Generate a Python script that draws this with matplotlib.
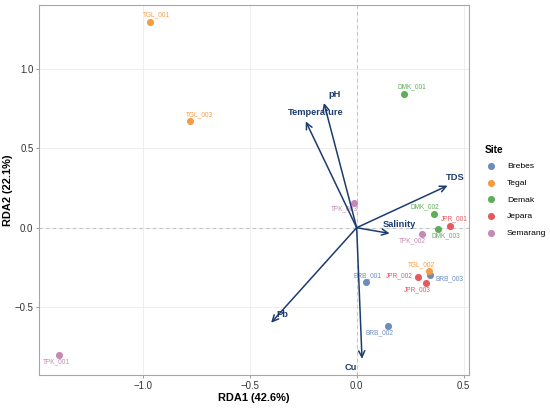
import numpy as np
import matplotlib.pyplot as plt

plt.rcParams['font.family'] = ['Liberation Sans', 'DejaVu Sans']
plt.rcParams['axes.unicode_minus'] = True

# site scores
samples = ['TGL_001', 'TGL_003', 'DMK_001', 'TPK_003', 'DMK_002', 'JPR_001', 'DMK_003',
           'TPK_002', 'TGL_002', 'BRB_003', 'JPR_002', 'JPR_003', 'BRB_001', 'BRB_002', 'TPK_001']
site = ['Tegal', 'Tegal', 'Demak', 'Semarang', 'Demak', 'Jepara', 'Demak',
        'Semarang', 'Tegal', 'Brebes', 'Jepara', 'Jepara', 'Brebes', 'Brebes', 'Semarang']
rda1 = [-0.967, -0.777, 0.220, -0.014, 0.360, 0.435, 0.378,
        0.304, 0.336, 0.344, 0.285, 0.322, 0.043, 0.146, -1.391]
rda2 = [1.298, 0.670, 0.845, 0.158, 0.086, 0.013, -0.010,
        -0.040, -0.271, -0.298, -0.311, -0.349, -0.340, -0.621, -0.802]

# environmental vectors
env_vars = ['pH', 'Temperature', 'TDS', 'Salinity', 'Cu', 'Pb']
env_x = [-0.153, -0.238, 0.425, 0.154, 0.025, -0.400]
env_y = [0.786, 0.670, 0.265, -0.036, -0.826, -0.599]

sites = ['Brebes', 'Tegal', 'Demak', 'Jepara', 'Semarang']
colors = {'Brebes': '#6b8dbd', 'Tegal': '#f59a45', 'Demak': '#5fad59',
          'Jepara': '#e5585c', 'Semarang': '#c28ab7'}

# label nudges in points
lab_off = {'TGL_001': (5, 5), 'TGL_003': (6.5, 5), 'DMK_001': (6, 5), 'TPK_003': (-7, -4.5),
           'DMK_002': (-6, 5), 'JPR_001': (3, 5), 'DMK_003': (6, -5), 'TPK_002': (-6.5, -5),
           'TGL_002': (-5, 4.6), 'BRB_003': (13.5, -3), 'JPR_002': (-13, 1.2), 'JPR_003': (-6, -5),
           'BRB_001': (1.2, 4.3), 'BRB_002': (-6, -5), 'TPK_001': (-2, -5)}
env_off = {'pH': (7.7, 6.3), 'Temperature': (7.4, 6.2), 'TDS': (5.8, 6), 'Salinity': (7, 6.2),
           'Cu': (-8.4, -6.5), 'Pb': (8.1, 6)}

fig = plt.figure(figsize=(5.5, 4.08), dpi=100)
ax = fig.add_axes([0.0709, 0.0809, 0.7818, 0.9068])

ax.set_xlim(-1.485, 0.525)
ax.set_ylim(-0.928, 1.403)
ax.set_xticks([-1.0, -0.5, 0.0, 0.5])
ax.set_yticks([-0.5, 0.0, 0.5, 1.0])
ax.grid(True, color='#ebebeb', lw=0.6)
ax.set_axisbelow(True)
for s in ax.spines.values():
    s.set_color('#a6a6a6')
    s.set_linewidth(0.8)
ax.tick_params(colors='#8c8c8c', length=2.5, width=0.6, labelsize=6.9, labelcolor='#333333', pad=1.5)

ax.axhline(0, color='#c4c4c4', lw=0.8, ls=(0, (3, 3)), zorder=1)
ax.axvline(0, color='#c4c4c4', lw=0.8, ls=(0, (3, 3)), zorder=1)

for name in sites:
    xs = [x for x, s in zip(rda1, site) if s == name]
    ys = [y for y, s in zip(rda2, site) if s == name]
    ax.scatter(xs, ys, s=26, color=colors[name], label=name, zorder=3, linewidths=0)

for n, s, x, y in zip(samples, site, rda1, rda2):
    ax.annotate(n, (x, y), xytext=lab_off[n], textcoords='offset points',
                ha='center', va='center', fontsize=4.7, color=colors[s], zorder=4)

navy = '#1d3c6e'
for v, x, y in zip(env_vars, env_x, env_y):
    ax.annotate('', xy=(x, y), xytext=(0, 0),
                arrowprops=dict(arrowstyle='->,head_length=0.45,head_width=0.22',
                                color=navy, lw=1.1, shrinkA=0, shrinkB=0), zorder=5)
    ax.annotate(v, (x, y), xytext=env_off[v], textcoords='offset points',
                ha='center', va='center', fontsize=6.7, fontweight='bold', color=navy, zorder=6)

ax.set_xlabel('RDA1 (42.6%)', fontsize=7.9, fontweight='bold', labelpad=1.5)
ax.set_ylabel('RDA2 (22.1%)', fontsize=7.9, fontweight='bold', labelpad=1)

leg = ax.legend(title='Site', loc='upper left', bbox_to_anchor=(0.8815, 0.644),
                bbox_transform=fig.transFigure, frameon=False, fontsize=6.1,
                title_fontproperties={'weight': 'bold', 'size': 7.3},
                handlelength=1.4, handletextpad=1.2, labelspacing=1.04,
                markerscale=1.0, borderaxespad=0, borderpad=0)
leg._legend_box.align = 'left'
leg._legend_box.sep = 5

fig.savefig('out.png', dpi=100)
